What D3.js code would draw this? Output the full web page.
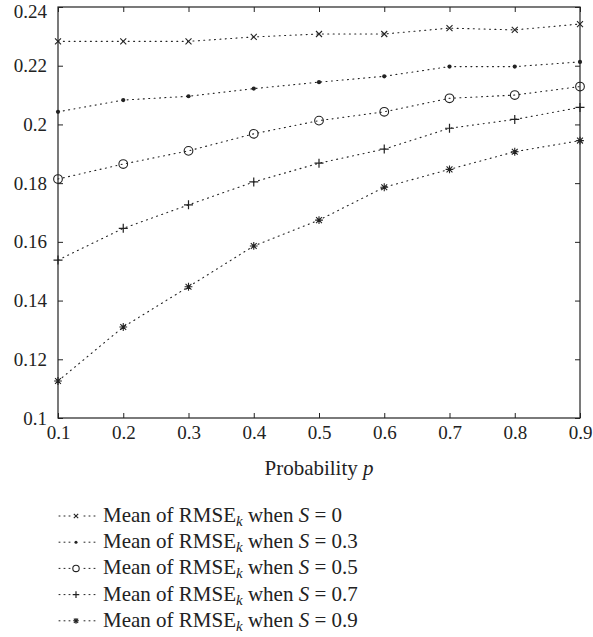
<!DOCTYPE html>
<html><head><meta charset="utf-8">
<script src="https://cdn.jsdelivr.net/npm/d3@7"></script>
<style>body{margin:0;background:#fff;} text{font-family:"Liberation Serif",serif;fill:#222;}</style>
</head><body>
<svg id="c" width="593" height="637"></svg>
<script>
const probs = [0.1,0.2,0.3,0.4,0.5,0.6,0.7,0.8,0.9];
const sLevels = ["0","0.3","0.5","0.7","0.9"];
const markerTypes = ["x","dot","circle","plus","star"];
const s0  = [0.2283,0.2283,0.2283,0.2298,0.2308,0.2308,0.2328,0.2322,0.2342];
const s03 = [0.2043,0.2083,0.2096,0.2122,0.2144,0.2164,0.2197,0.2197,0.2213];
const s05 = [0.1814,0.1865,0.1910,0.1968,0.2013,0.2043,0.2089,0.2100,0.2129];
const s07 = [0.1538,0.1646,0.1726,0.1804,0.1868,0.1916,0.1987,0.2017,0.2058];
const s09 = [0.1126,0.1310,0.1447,0.1586,0.1674,0.1786,0.1847,0.1907,0.1945];
const seriesValues = [s0,s03,s05,s07,s09];
const xTicks = [0.1,0.2,0.3,0.4,0.5,0.6,0.7,0.8,0.9];
const yTicks = [0.1,0.12,0.14,0.16,0.18,0.2,0.22,0.24];

const svg = d3.select("#c");
const L=58, R=580, T=7, B=418;
const x = d3.scaleLinear().domain([0.1,0.9]).range([L,R]);
const y = d3.scaleLinear().domain([0.1,0.24]).range([B,T]);
const fmt = d => String(+d.toFixed(2));
const col = "#222";

// frame
svg.append("rect").attr("x",L).attr("y",T).attr("width",R-L).attr("height",B-T)
  .attr("fill","none").attr("stroke",col).attr("stroke-width",1.2);

const ax = (g)=>{g.select(".domain").remove(); g.selectAll("line").attr("stroke",col).attr("stroke-width",1);};
svg.append("g").attr("transform",`translate(0,${B})`)
  .call(d3.axisBottom(x).tickValues(xTicks).tickSize(-5).tickPadding(8).tickFormat(fmt))
  .call(ax).selectAll("text").attr("font-size",19).attr("fill",col);
svg.append("g").attr("transform",`translate(0,${T})`)
  .call(d3.axisTop(x).tickValues(xTicks).tickSize(-5).tickFormat(""))
  .call(ax);
const yl = svg.append("g").attr("transform",`translate(${L},0)`)
  .call(d3.axisLeft(y).tickValues(yTicks).tickSize(-5).tickPadding(11).tickFormat(fmt))
  .call(ax);
yl.selectAll("text").attr("font-size",19).attr("fill",col)
  .attr("dy", d => d===0.24 ? "0.55em" : "0.32em");
svg.append("g").attr("transform",`translate(${R},0)`)
  .call(d3.axisRight(y).tickValues(yTicks).tickSize(-5).tickFormat(""))
  .call(ax);

// x label
const xl = svg.append("text").attr("x",319).attr("y",475).attr("text-anchor","middle").attr("font-size",21);
xl.append("tspan").text("Probability ");
xl.append("tspan").attr("font-style","italic").text("p");

function drawMarker(g, type, cx, cy, s){
  if(type==="x"){
    g.append("path").attr("d",`M${cx-s},${cy-s}L${cx+s},${cy+s}M${cx-s},${cy+s}L${cx+s},${cy-s}`).attr("stroke",col).attr("stroke-width",1.1);
  } else if(type==="dot"){
    g.append("circle").attr("cx",cx).attr("cy",cy).attr("r",s*0.7).attr("fill",col);
  } else if(type==="circle"){
    g.append("circle").attr("cx",cx).attr("cy",cy).attr("r",s*1.45).attr("fill","none").attr("stroke",col).attr("stroke-width",1.1);
  } else if(type==="plus"){
    const p=s*1.5;
    g.append("path").attr("d",`M${cx-p},${cy}L${cx+p},${cy}M${cx},${cy-p}L${cx},${cy+p}`).attr("stroke",col).attr("stroke-width",1.2);
  } else if(type==="star"){
    const p=s*1.3;
    g.append("path").attr("d",`M${cx-p},${cy}L${cx+p},${cy}M${cx},${cy-p}L${cx},${cy+p}M${cx-p*0.75},${cy-p*0.75}L${cx+p*0.75},${cy+p*0.75}M${cx-p*0.75},${cy+p*0.75}L${cx+p*0.75},${cy-p*0.75}`).attr("stroke",col).attr("stroke-width",1.1);
  }
}

const line = d3.line().x((d,i)=>x(probs[i])).y(d=>y(d));
seriesValues.forEach((vals,k)=>{
  svg.append("path").datum(vals).attr("d",line).attr("fill","none").attr("stroke",col)
    .attr("stroke-width",1.1).attr("stroke-dasharray","1,4.4").attr("stroke-linecap","round");
  const g = svg.append("g");
  vals.forEach((v,i)=>drawMarker(g, markerTypes[k], x(probs[i]), y(v), 3));
});

// legend
sLevels.forEach((s,k)=>{
  const by = 522 + k*26.2;
  const cy = by - 6;
  svg.append("line").attr("x1",59).attr("x2",96).attr("y1",cy).attr("y2",cy).attr("stroke",col)
    .attr("stroke-width",1).attr("stroke-dasharray","1,4").attr("stroke-linecap","round");
  svg.append("rect").attr("x",71).attr("y",cy-5).attr("width",10).attr("height",10).attr("fill","#fff");
  drawMarker(svg.append("g"), markerTypes[k], 76, cy, 2.2);
  const t = svg.append("text").attr("x",103).attr("y",by).attr("font-size",21);
  t.append("tspan").text("Mean of RMSE");
  t.append("tspan").attr("font-style","italic").attr("font-size",15).attr("dy",4).text("k");
  t.append("tspan").attr("dy",-4).text(" when ");
  t.append("tspan").attr("font-style","italic").text("S");
  t.append("tspan").text(" = " + s);
});
</script>
</body></html>
